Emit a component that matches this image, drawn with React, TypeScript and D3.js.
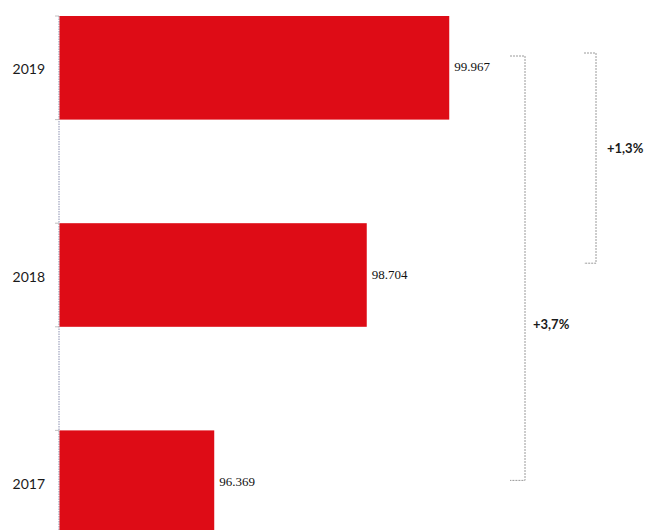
import React from "react";
import * as d3 from "d3";

const years = ["2019", "2018", "2017"];
const values = [99967, 98704, 96369];
const valueLabels = ["99.967", "98.704", "96.369"];
const changeLabels = ["+1,3%", "+3,7%"];

const W = 646;
const H = 530;

export default function App() {
  const x = d3.scaleLinear().domain([94000, 100000]).range([59.5, 451.4]);
  const y = d3.scaleBand<string>().domain(years).range([16, 534]).paddingInner(0.5).paddingOuter(0);
  const bw = y.bandwidth();
  const red = "#de0c16";
  const gray = "#9a9a9a";

  const boundaries: number[] = [];
  years.forEach((yr) => {
    boundaries.push(y(yr)!);
    boundaries.push(y(yr)! + bw);
  });

  // brackets
  const b1Top = y("2019")! + 40;
  const b1Bot = y("2017")! + 50;
  const b2Top = y("2019")! + 37;
  const b2Bot = y("2018")! + 40;

  return (
    <svg width={W} height={H} style={{ position: "absolute", left: 0, top: 0, background: "#fff" }}>
      {/* axis */}
      <line x1={59} x2={59} y1={16} y2={H} stroke="#8a90b0" strokeWidth={1} strokeDasharray="1.5 1" />
      {boundaries.map((b, i) => (
        <line key={i} x1={55} x2={59} y1={b} y2={b} stroke="#b0b0b0" strokeWidth={0.8} />
      ))}
      {years.map((yr, i) => (
        <g key={yr}>
          <rect x={x(94000)} y={y(yr)!} width={x(values[i]) - x(94000)} height={bw} fill={red} />
          <text
            x={45}
            y={y(yr)! + bw / 2 + 1}
            textAnchor="end"
            dominantBaseline="central"
            fontFamily="Lato, 'Open Sans', sans-serif"
            fontSize={14}
            fill="#1a1a1a"
          >
            {yr}
          </text>
          <text
            x={x(values[i]) + 5}
            y={y(yr)! + bw / 2 - 1}
            dominantBaseline="central"
            fontFamily="'Liberation Serif', serif"
            fontSize={13}
            fill="#111"
          >
            {valueLabels[i]}
          </text>
        </g>
      ))}
      {/* bracket +3,7% */}
      <path
        d={`M510,${b1Top}H525V${b1Bot}H510`}
        fill="none"
        stroke={gray}
        strokeWidth={1}
        strokeDasharray="2 1"
      />
      <text
        x={533}
        y={(b1Top + b1Bot) / 2 + 56}
        dominantBaseline="central"
        fontFamily="Lato, 'Open Sans', sans-serif"
        fontWeight="bold"
        fontSize={13}
        fill="#1a1a1a"
      >
        {changeLabels[1]}
      </text>
      {/* bracket +1,3% */}
      <path
        d={`M584,${b2Top}H596V${b2Bot}H584`}
        fill="none"
        stroke={gray}
        strokeWidth={1}
        strokeDasharray="2 1"
      />
      <text
        x={607}
        y={(b2Top + b2Bot) / 2 - 10}
        dominantBaseline="central"
        fontFamily="Lato, 'Open Sans', sans-serif"
        fontWeight="bold"
        fontSize={13}
        fill="#1a1a1a"
      >
        {changeLabels[0]}
      </text>
    </svg>
  );
}
